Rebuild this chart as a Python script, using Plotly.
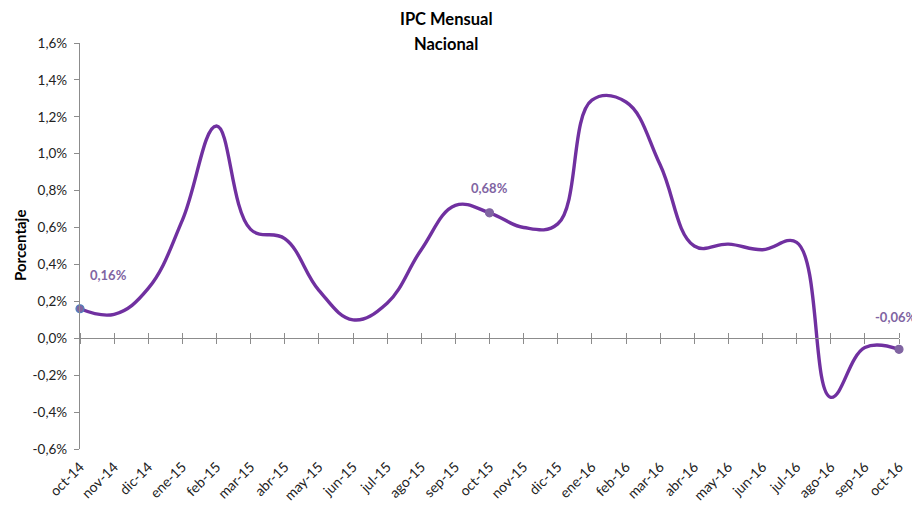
import plotly.graph_objects as go

months = ["oct-14", "nov-14", "dic-14", "ene-15", "feb-15", "mar-15", "abr-15", "may-15",
          "jun-15", "jul-15", "ago-15", "sep-15", "oct-15", "nov-15", "dic-15", "ene-16",
          "feb-16", "mar-16", "abr-16", "may-16", "jun-16", "jul-16", "ago-16", "sep-16", "oct-16"]
ipc = [0.16, 0.13, 0.27, 0.64, 1.15, 0.59, 0.54, 0.26, 0.10, 0.19, 0.48, 0.72, 0.68,
       0.60, 0.62, 1.29, 1.28, 0.94, 0.50, 0.51, 0.48, 0.52, -0.32, -0.05, -0.06]
ytick_vals = [-0.6, -0.4, -0.2, 0.0, 0.2, 0.4, 0.6, 0.8, 1.0, 1.2, 1.4, 1.6]
ytick_text = ["-0,6%", "-0,4%", "-0,2%", "0,0%", "0,2%", "0,4%", "0,6%", "0,8%",
              "1,0%", "1,2%", "1,4%", "1,6%"]
labeled = ["oct-14", "oct-15", "oct-16"]

FONT = "Lato"
LINE = "#7030A0"
LABEL = "#8064A2"
AXIS = "#8c8c8c"
YMIN, YMAX = -0.6, 1.6

# figure geometry (page has an 8px body margin)
W, H = 912, 497
ML, MR, MT, MB = 72, 21, 35, 56
PW, PH = W - ML - MR, H - MT - MB

fig = go.Figure()
fig.add_trace(go.Scatter(
    x=months, y=ipc, mode="lines",
    line=dict(color=LINE, width=3.4, shape="spline", smoothing=1.15),
    hoverinfo="skip", showlegend=False, cliponaxis=False))

idx = [months.index(m) for m in labeled]
fig.add_trace(go.Scatter(
    x=[months[i] for i in idx], y=[ipc[i] for i in idx], mode="markers",
    marker=dict(size=8, color=LABEL,
                line=dict(color=["#4F81BD", LABEL, LABEL], width=1.2)),
    showlegend=False, hoverinfo="skip", cliponaxis=False))

shifts = {"oct-14": (28, 34), "oct-15": (0, 25), "oct-16": (-3, 32)}
for i in idx:
    m = months[i]
    txt = ("%.2f%%" % ipc[i]).replace(".", ",")
    dx, dy = shifts[m]
    fig.add_annotation(x=m, y=ipc[i], text="<b>%s</b>" % txt, showarrow=False,
                       xshift=dx, yshift=dy, font=dict(family=FONT, size=13, color=LABEL))

# category axis line at zero with crossing ticks
zero_pos = (0 - YMIN) / (YMAX - YMIN)
common = dict(type="category", overlaying="x", anchor="free", position=zero_pos,
              showticklabels=False, showgrid=False, tickcolor=AXIS,
              tickwidth=1.2, ticklen=5, tickmode="array", tickvals=months,
              range=[0, len(months) - 1])
fig.update_layout(
    xaxis2=dict(**common, showline=True, linecolor=AXIS, linewidth=1.3,
                ticks="outside", side="bottom"),
    xaxis3=dict(**common, showline=False, ticks="outside", side="top"),
)
fig.add_trace(go.Scatter(x=months, y=[None] * len(months), xaxis="x2", showlegend=False,
                         hoverinfo="skip"))
fig.add_trace(go.Scatter(x=months, y=[None] * len(months), xaxis="x3", showlegend=False,
                         hoverinfo="skip"))

# title lines
for txt, fy in [("IPC Mensual", 11), ("Nacional", 36)]:
    fig.add_annotation(xref="paper", yref="paper", x=(438 - ML) / PW, y=1 + (MT - fy) / PH,
                       xanchor="center", yanchor="middle", showarrow=False,
                       text="<b>%s</b>" % txt, font=dict(family=FONT, size=16.5, color="#000"))
# y axis title
fig.add_annotation(xref="paper", yref="paper", x=(12 - ML) / PW, y=0.5, textangle=-90,
                   xanchor="center", yanchor="middle", showarrow=False,
                   text="<b>Porcentaje</b>", font=dict(family=FONT, size=15, color="#000"))

fig.update_layout(
    width=W, height=H,
    margin=dict(l=ML, r=MR, t=MT, b=MB),
    paper_bgcolor="white", plot_bgcolor="white",
    xaxis=dict(type="category", range=[0, len(months) - 1], showline=False, showgrid=False,
               ticks="", ticklabelstandoff=6, tickangle=-45,
               tickfont=dict(family=FONT, size=14, color="#222"),
               anchor="y", side="bottom", automargin=False),
    yaxis=dict(range=[YMIN, YMAX], tickmode="array", tickvals=ytick_vals, ticktext=ytick_text,
               showline=True, linecolor=AXIS, linewidth=1.3, ticks="outside",
               ticklen=5, tickcolor=AXIS, showgrid=False, zeroline=False, ticklabelstandoff=4,
               tickfont=dict(family=FONT, size=13.5, color="#222"), automargin=False),
    showlegend=False,
)

fig.write_html("out.html")
